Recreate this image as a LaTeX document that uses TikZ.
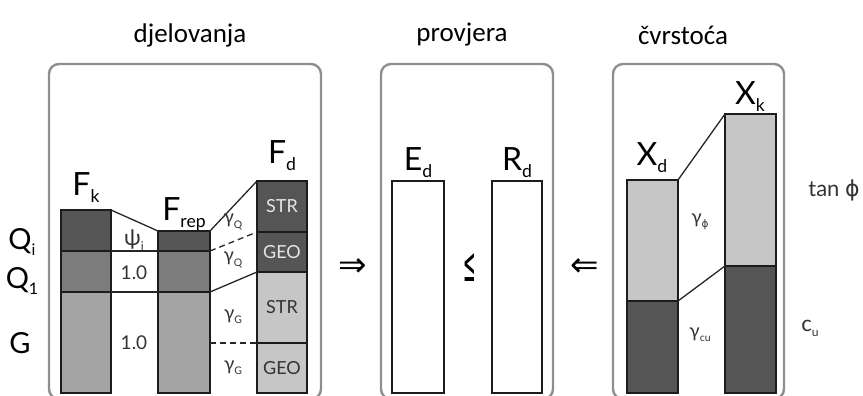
\documentclass[tikz,border=0pt]{standalone}
\usepackage{fontspec}
\setmainfont{Lato}
\newfontfamily\titlefont{Carlito}
\newfontfamily\symfont{DejaVu Sans}
\usepackage{tikz}
\definecolor{framegray}{HTML}{8E8E8E}
\definecolor{barline}{HTML}{1C1C1C}
\definecolor{qdark}{HTML}{555555}
\definecolor{qmid}{HTML}{7C7C7C}
\definecolor{gmid}{HTML}{A4A4A4}
\definecolor{light}{HTML}{C6C6C6}
\definecolor{segwhite}{HTML}{E6E6E6}
\newcommand{\lowidx}[1]{\raisebox{-0.22em}{\scalebox{0.55}{#1}}}

\begin{document}
\begin{tikzpicture}[x=1pt, y=-1pt,
    frame/.style={draw=framegray, line width=2.4pt, rounded corners=10pt},
    seg/.style={draw=barline, line width=2.6pt, inner sep=0pt, outer sep=0pt,
                anchor=north west, minimum width=50pt, text=black!80,
                font=\fontsize{18}{18}\selectfont},
    link/.style={line width=1.3pt, black!85},
    cut/.style={link, dash pattern=on 6pt off 4pt},
    tag/.style={inner sep=0pt, anchor=base, font=\fontsize{32}{32}\selectfont},
    side/.style={inner sep=0pt, anchor=base, font=\fontsize{29}{29}\selectfont},
    fac/.style={inner sep=0pt, font=\fontsize{19}{19}\selectfont, black!80},
    title/.style={inner sep=0pt, font=\titlefont\fontsize{27}{27}\selectfont},
    rel/.style={inner sep=0pt, font=\symfont\fontsize{34}{34}\selectfont}
]
\useasboundingbox (0,0) rectangle (863,396);

% ================================================================
%  frames and titles
% ================================================================
\draw[frame] (49,64) rectangle (321,399);
\draw[frame] (381,64) rectangle (553,399);
\draw[frame] (613,64) rectangle (784,399);

\node[title] (tact) at (190,35) {djelovanja};
\node[title] (tchk) at (462,35) {provjera};
\node[title] (tres) at (683,35) {čvrstoća};

% ================================================================
%  actions: F_k, F_rep, F_d
% ================================================================
\node[seg, fill=qdark, minimum height=41pt] (fkQi) at (61,210) {};
\node[seg, fill=qmid, minimum height=41pt] (fkQ1) at (fkQi.south west) {};
\node[seg, fill=gmid, minimum height=101pt] (fkG) at (fkQ1.south west) {};

\node[seg, fill=qdark, minimum width=52pt, minimum height=20pt] (frQi) at (158,231) {};
\node[seg, fill=qmid, minimum width=52pt, minimum height=41pt] (frQ1) at (frQi.south west) {};
\node[seg, fill=gmid, minimum width=52pt, minimum height=101pt] (frG) at (frQ1.south west) {};

\node[seg, fill=qdark, text=segwhite, minimum height=51pt] (fdS1) at (257,181) {STR};
\node[seg, fill=qdark, text=segwhite, minimum height=40pt] (fdG1) at (fdS1.south west) {GEO};
\node[seg, fill=light, minimum height=71pt] (fdS2) at (fdG1.south west) {STR};
\node[seg, fill=light, minimum height=50pt] (fdG2) at (fdS2.south west) {GEO};

% partial factors
\draw[link] (fkQi.north east) -- (frQi.north west);
\draw[link] (fkQ1.north east) -- (frQ1.north west);
\draw[link] (fkG.north east) -- (frG.north west);
\draw[link] (frQi.north east) -- (fdS1.north west);
\draw[cut] (frQ1.north east) -- (fdG1.north west);
\draw[link] (frG.north east) -- (fdS2.north west);
\draw[cut] (frG.east |- fdG2.north) -- (fdG2.north west);

\node[tag] (lfk) at (86,195) {F\lowidx{k}};
\node[tag] (lfr) at (184,220) {F\lowidx{rep}};
\node[tag] (lfd) at (282,163) {F\lowidx{d}};

\node[side] (lqi) at (22,249) {Q\lowidx{i}};
\node[side] (lq1) at (22,288) {Q\lowidx{1}};
\node[side] (lg) at (20,353) {G};

\node[fac, font=\fontsize{22}{22}\selectfont] (psi) at (134,240) {ψ\lowidx{i}};
\node[fac] (one1) at (134,273) {1.0};
\node[fac] (one2) at (134,343) {1.0};
\node[fac] (gq1) at (233,222) {γ\lowidx{Q}};
\node[fac] (gq2) at (233,260) {γ\lowidx{Q}};
\node[fac] (gg1) at (233,317) {γ\lowidx{G}};
\node[fac] (gg2) at (233,368) {γ\lowidx{G}};

% ================================================================
%  check: E_d <= R_d
% ================================================================
\node[seg, fill=white, minimum width=52pt, minimum height=212pt] (ed) at (392,181) {};
\node[seg, fill=white, minimum width=50pt, minimum height=212pt] (rd) at (492,181) {};
\node[tag] (led) at (418,170) {E\lowidx{d}};
\node[tag] (lrd) at (517,170) {R\lowidx{d}};

\node[rel] (impl) at (353,268) {⇒};
\node[rel] (leq) at (470,268) {\scalebox{0.5}[1.6]{\fontsize{30}{30}\selectfont ≤}};
\node[rel] (back) at (585,268) {⇐};

% ================================================================
%  resistance: X_d, X_k
% ================================================================
\node[seg, fill=light, minimum width=51pt, minimum height=121pt] (xdL) at (627,180) {};
\node[seg, fill=qdark, minimum width=51pt, minimum height=92pt] (xdD) at (xdL.south west) {};
\node[seg, fill=light, minimum width=51pt, minimum height=152pt] (xkL) at (725,114) {};
\node[seg, fill=qdark, minimum width=51pt, minimum height=127pt] (xkD) at (xkL.south west) {};

\draw[link] (xdL.north east) -- (xkL.north west);
\draw[link] (xdD.north east) -- (xkD.north west);

\node[tag] (lxd) at (652,165) {X\lowidx{d}};
\node[tag] (lxk) at (750,104) {X\lowidx{k}};

\node[fac] (gphi) at (700,222) {γ\lowidx{\symfont ϕ}};
\node[fac] (gcu) at (700,335) {γ\lowidx{cu}};
\node[fac, font=\fontsize{22}{22}\selectfont] (tanphi) at (834,190) {tan {\symfont ϕ}};
\node[fac, font=\fontsize{22}{22}\selectfont] (cu) at (810,328) {c\lowidx{u}};
\end{tikzpicture}
\end{document}
